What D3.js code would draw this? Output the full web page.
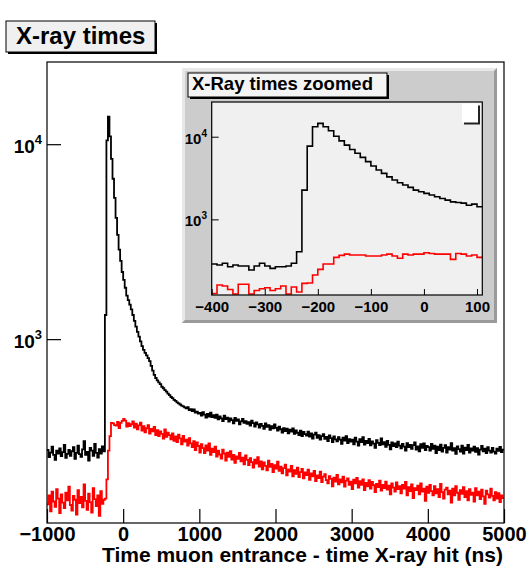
<!DOCTYPE html>
<html>
<head>
<meta charset="utf-8">
<script src="https://cdn.jsdelivr.net/npm/d3@7"></script>
<style>
body { margin: 0; background: #fff; }
text { font-family: "Liberation Sans", Arial, Helvetica, sans-serif; font-weight: bold; }
</style>
</head>
<body>
<div id="chart"></div>
<script>
// main histogram, 20 ns bins starting at -1000 ns
var binStart = -1000, binWidth = 20;
var allHits = [
  270, 248, 262, 281, 255, 240, 268, 259, 275, 251,
  263, 287, 246, 258, 270, 252, 266, 279, 243, 261,
  284, 257, 249, 272, 300, 255, 264, 238, 277, 268,
  252, 290, 261, 247, 273, 259, 282, 266,
  1330, 10450, 13850, 10975, 8400, 6650, 5300, 4190, 3430, 2880,
  2520, 2210, 2015, 1835, 1670, 1585, 1505, 1420, 1330, 1240,
  1160, 1090, 1030, 975, 920, 880, 850, 825, 800, 772,
  730, 690, 655, 632, 615, 600, 588, 570, 560, 548,
  538, 525, 516, 505, 498, 488, 482, 474, 468, 462,
  456, 452, 447,
  441, 448, 432, 437, 428, 436, 420, 425, 415,
  418, 405, 422, 410, 396, 413, 401, 420, 398, 407,
  395, 410, 388, 402, 392, 380, 405, 389, 396, 378,
  392, 384, 370, 395, 381, 387, 365, 379, 390, 372,
  380, 368, 375, 360, 382, 371, 356, 374, 365, 352,
  368, 359, 347, 370, 355, 362, 343, 358, 349, 365,
  351, 340, 356, 345, 332, 350, 338, 347, 329, 343,
  336, 348, 327, 340, 331, 322, 339, 318, 334, 326,
  320, 335, 316, 328, 309, 324, 331, 312, 322, 305,
  318, 326, 308, 315, 300, 321, 311, 296, 317, 306,
  299, 314, 305, 290, 312, 302, 318, 293, 307, 298,
  305, 289, 312, 298, 284, 307, 296, 314, 288, 301,
  293, 308, 285, 299, 291, 277, 303, 294, 286, 310,
  289, 296, 280, 301, 287, 272, 295, 283, 292, 279,
  298, 284, 275, 290, 281, 268, 293, 279, 287, 274,
  286, 295, 271, 282, 266, 289, 277, 292, 270, 283,
  279, 268, 290, 274, 284, 260, 281, 270, 288, 265,
  277, 286, 262, 279, 271, 293, 268, 276, 258, 282,
  273, 265, 284, 259, 278, 270, 287, 262, 275, 268,
  281, 264, 276, 256, 271, 283, 266, 274, 260, 279,
  268, 262, 277, 265, 259, 274, 267, 280, 263, 271
];
var lateHits = [
  142, 158, 131, 165, 147, 138, 170, 152, 128, 160,
  145, 136, 163, 149, 175, 141, 132, 157, 150, 126,
  168, 144, 155, 137, 180, 148, 133, 161, 146, 129,
  172, 151, 139, 158, 124, 166, 143, 150,
  152, 191, 268, 318, 372, 370, 362, 360, 376, 350,
  372, 381, 390, 382, 356, 371, 358, 366,
  378, 352, 369, 345, 361, 373,
  340, 358, 333, 349, 362, 328, 346, 337, 355, 322,
  341, 318, 336, 327, 309, 344, 315, 331, 322, 306,
  328, 301, 317, 296, 324, 310, 289, 319, 298, 305,
  284, 311, 292, 279, 300, 270, 295, 283, 262, 289,
  276, 260, 285, 268, 292, 255, 274, 263, 281, 250,
  268, 256, 244, 271, 259, 238, 262, 249, 266, 241,
  255, 232, 250, 243, 261, 236, 247, 228, 253, 240,
  226, 245, 234, 219, 241, 230, 248, 222, 236, 215,
  233, 224, 212, 238, 221, 229, 208, 226, 217, 235,
  211, 222, 205, 218, 227, 200, 215, 209, 224, 198,
  213, 204, 219, 196, 208, 216, 193, 207, 201, 214,
  190, 205, 198, 211, 187, 200, 194, 209, 185, 197,
  203, 189, 182, 198, 192, 176, 195, 186, 201, 180,
  191, 184, 197, 175, 188, 193, 179, 186, 170, 190,
  182, 194, 173, 187, 179, 191, 168, 183, 176, 189,
  171, 185, 178, 164, 181, 174, 188, 167, 179, 172,
  186, 169, 177, 160, 182, 173, 165, 184, 170, 176,
  162, 179, 171, 185, 158, 174, 166, 180, 153, 172,
  168, 177, 160, 182, 165, 171, 148, 175, 163, 179,
  166, 158, 176, 162, 170, 155, 181, 164, 152, 169,
  173, 160, 167, 145, 171, 158, 176, 163, 150, 168,
  161, 174, 155, 166, 149, 170, 159, 163, 147, 172,
  158, 165, 151, 169, 156, 143, 167, 160, 154, 171,
  157, 149, 164, 152, 162, 146, 158, 153
];

// zoomed histogram, 10 ns bins starting at -400 ns
var zoomStart = -400, zoomWidth = 10;
var zoomAll = [
  288, 280, 294, 267, 280, 273, 273, 244, 273, 294,
  273, 255, 267, 267, 273, 294, 405, 2260, 7700, 13200,
  14500, 13200, 11800, 10150, 8900, 7900, 7000, 6300, 5630, 5000,
  4420, 3950, 3600, 3270, 2990, 2770, 2600, 2440, 2260, 2160,
  2060, 1970, 1880, 1790, 1710, 1630, 1600, 1570, 1480, 1530,
  1420
];
var zoomLate = [
  127, 161, 156, 142, 125, 164, 164, 125, 138, 145,
  149, 138, 145, 156, 125, 152, 132, 168, 170, 212,
  248, 288, 288, 347, 367, 380, 370, 370, 370, 360,
  360, 360, 370, 380, 360, 338, 380, 370, 380, 380,
  395, 387, 380, 380, 380, 328, 387, 380, 360, 370,
  347
];

var xTicks = [-1000, 0, 1000, 2000, 3000, 4000, 5000];
var zoomTicks = [-400, -300, -200, -100, 0, 100];
var decades = [3, 4];

var W = 529, H = 571;
var svg = d3.select("#chart").append("svg")
  .attr("width", W)
  .attr("height", H);

function minorLog(lo, hi) {
  var out = [];
  for (var e = 2; e <= 4; e++) {
    for (var m = 2; m <= 9; m++) {
      var v = m * Math.pow(10, e);
      if (v > lo && v < hi) out.push(v);
    }
  }
  return out;
}
function minorLin(lo, hi, step) {
  var out = [];
  for (var v = Math.ceil(lo / step) * step; v <= hi; v += step) out.push(v);
  return out;
}
function steps(data, start, width) {
  var pts = data.map(function(d, i) { return [start + i * width, d]; });
  pts.push([start + data.length * width, data[data.length - 1]]);
  return pts;
}

// ---- main pad ----
var frame = {left: 47, right: 504, top: 62, bottom: 523};
var x = d3.scaleLinear().domain([-1000, 5000]).range([frame.left, frame.right]);
var y = d3.scaleLog().domain([114, 26400]).range([frame.bottom, frame.top]);

svg.append("clipPath").attr("id", "clipMain")
  .append("rect")
  .attr("x", frame.left).attr("y", frame.top)
  .attr("width", frame.right - frame.left).attr("height", frame.bottom - frame.top);

var line = d3.line()
  .x(function(d) { return x(d[0]); })
  .y(function(d) { return y(d[1]); })
  .curve(d3.curveStepAfter);

svg.append("path")
  .attr("clip-path", "url(#clipMain)")
  .attr("d", line(steps(allHits, binStart, binWidth)))
  .attr("fill", "none").attr("stroke", "#000").attr("stroke-width", 1.8);
svg.append("path")
  .attr("clip-path", "url(#clipMain)")
  .attr("d", line(steps(lateHits, binStart, binWidth)))
  .attr("fill", "none").attr("stroke", "#ff0000").attr("stroke-width", 1.8);

svg.append("rect")
  .attr("x", frame.left).attr("y", frame.top)
  .attr("width", frame.right - frame.left).attr("height", frame.bottom - frame.top)
  .attr("fill", "none").attr("stroke", "#000").attr("stroke-width", 1.2);

// x axis (ticks point inward)
var gx = svg.append("g").attr("transform", "translate(0," + frame.bottom + ")");
gx.call(d3.axisBottom(x).tickValues(minorLin(-1000, 5000, 200)).tickSize(-7).tickFormat(""));
gx.call(d3.axisBottom(x).tickValues(xTicks).tickSize(-14).tickPadding(4).tickFormat(d3.format("d")));
gx.selectAll(".domain").remove();
gx.selectAll("line").attr("stroke", "#000").attr("stroke-width", 1.2);
gx.selectAll("text").attr("font-size", 20).attr("fill", "#000")
  .style("font-family", "'Liberation Sans', Arial, sans-serif").style("font-weight", "bold");

svg.append("text")
  .attr("x", frame.right - 1).attr("y", 562)
  .attr("text-anchor", "end")
  .attr("font-size", 21)
  .text("Time muon entrance - time X-ray hit (ns)");

// y axis
var gy = svg.append("g").attr("transform", "translate(" + frame.left + ",0)");
gy.call(d3.axisLeft(y).tickValues(minorLog(114, 26400)).tickSize(-7).tickFormat(""));
gy.call(d3.axisLeft(y).tickValues(decades.map(function(e) { return Math.pow(10, e); })).tickSize(-14).tickFormat(""));
gy.selectAll(".domain").remove();
gy.selectAll("line").attr("stroke", "#000").attr("stroke-width", 1.2);

decades.forEach(function(e) {
  var t = svg.append("text")
    .attr("x", 42).attr("y", y(Math.pow(10, e)) + 9)
    .attr("text-anchor", "end")
    .attr("font-size", 19);
  t.append("tspan").text("10");
  t.append("tspan").attr("dy", -9).attr("font-size", 13).text(e);
});

// title box
svg.append("rect").attr("x", 8).attr("y", 23).attr("width", 149).attr("height", 31).attr("fill", "#000");
svg.append("rect").attr("x", 6).attr("y", 21).attr("width", 149).attr("height", 31)
  .attr("fill", "#f0f0f0").attr("stroke", "#000").attr("stroke-width", 1);
svg.append("text").attr("x", 16).attr("y", 44).attr("font-size", 24).text("X-ray times");

// ---- inset pad ----
var pad = {left: 182, right: 497, top: 68, bottom: 323};
svg.append("rect")
  .attr("x", pad.left).attr("y", pad.top)
  .attr("width", pad.right - pad.left).attr("height", pad.bottom - pad.top)
  .attr("fill", "#cccccc");
// bevel
var b = 3;
svg.append("polygon")
  .attr("points", [[pad.left, pad.top], [pad.right, pad.top], [pad.right - b, pad.top + b],
    [pad.left + b, pad.top + b], [pad.left + b, pad.bottom - b], [pad.left, pad.bottom]].join(" "))
  .attr("fill", "#e8e8e8");
svg.append("polygon")
  .attr("points", [[pad.right, pad.top], [pad.right, pad.bottom], [pad.left, pad.bottom],
    [pad.left + b, pad.bottom - b], [pad.right - b, pad.bottom - b], [pad.right - b, pad.top + b]].join(" "))
  .attr("fill", "#9a9a9a");

var inner = {left: 211.7, right: 482.3, top: 102, bottom: 295};
var zx = d3.scaleLinear().domain([-400, 110]).range([inner.left, inner.right]);
var zy = d3.scaleLog().domain([121.6, 26300]).range([inner.bottom, inner.top]);

svg.append("rect")
  .attr("x", inner.left).attr("y", inner.top)
  .attr("width", inner.right - inner.left).attr("height", inner.bottom - inner.top)
  .attr("fill", "#f0f0f0");

svg.append("clipPath").attr("id", "clipZoom")
  .append("rect")
  .attr("x", inner.left).attr("y", inner.top)
  .attr("width", inner.right - inner.left).attr("height", inner.bottom - inner.top);

var zline = d3.line()
  .x(function(d) { return zx(d[0]); })
  .y(function(d) { return zy(d[1]); })
  .curve(d3.curveStepAfter);

svg.append("path")
  .attr("clip-path", "url(#clipZoom)")
  .attr("d", zline(steps(zoomAll, zoomStart, zoomWidth)))
  .attr("fill", "none").attr("stroke", "#000").attr("stroke-width", 1.6);
svg.append("path")
  .attr("clip-path", "url(#clipZoom)")
  .attr("d", zline(steps(zoomLate, zoomStart, zoomWidth)))
  .attr("fill", "none").attr("stroke", "#ff0000").attr("stroke-width", 1.6);

svg.append("rect")
  .attr("x", inner.left).attr("y", inner.top)
  .attr("width", inner.right - inner.left).attr("height", inner.bottom - inner.top)
  .attr("fill", "none").attr("stroke", "#000").attr("stroke-width", 1.2);

var gzx = svg.append("g").attr("transform", "translate(0," + inner.bottom + ")");
gzx.call(d3.axisBottom(zx).tickValues(minorLin(-400, 110, 20)).tickSize(-3).tickFormat(""));
gzx.call(d3.axisBottom(zx).tickValues(zoomTicks).tickSize(-6).tickPadding(6).tickFormat(d3.format("d")));
gzx.selectAll(".domain").remove();
gzx.selectAll("line").attr("stroke", "#000");
gzx.selectAll("text").attr("font-size", 15).attr("fill", "#000")
  .style("font-family", "'Liberation Sans', Arial, sans-serif").style("font-weight", "bold");

var gzy = svg.append("g").attr("transform", "translate(" + inner.left + ",0)");
gzy.call(d3.axisLeft(zy).tickValues(minorLog(121.6, 26300)).tickSize(-3.5).tickFormat(""));
gzy.call(d3.axisLeft(zy).tickValues(decades.map(function(e) { return Math.pow(10, e); })).tickSize(-7).tickFormat(""));
gzy.selectAll(".domain").remove();
gzy.selectAll("line").attr("stroke", "#000");

decades.forEach(function(e) {
  var t = svg.append("text")
    .attr("x", 207).attr("y", zy(Math.pow(10, e)) + 7)
    .attr("text-anchor", "end")
    .attr("font-size", 15);
  t.append("tspan").text("10");
  t.append("tspan").attr("dy", -7).attr("font-size", 10).text(e);
});

// inset title box
svg.append("rect").attr("x", 190).attr("y", 75).attr("width", 199).attr("height", 24).attr("fill", "#000");
svg.append("rect").attr("x", 188).attr("y", 73).attr("width", 199).attr("height", 24)
  .attr("fill", "#f4f4f4").attr("stroke", "#000").attr("stroke-width", 1);
svg.append("text").attr("x", 192).attr("y", 90).attr("font-size", 18.5).text("X-Ray times zoomed");

// empty legend box
svg.append("rect").attr("x", 464).attr("y", 105.5).attr("width", 16).attr("height", 19).attr("fill", "#222");
svg.append("rect").attr("x", 462).attr("y", 103.5).attr("width", 16).attr("height", 19).attr("fill", "#fff");
</script>
</body>
</html>
